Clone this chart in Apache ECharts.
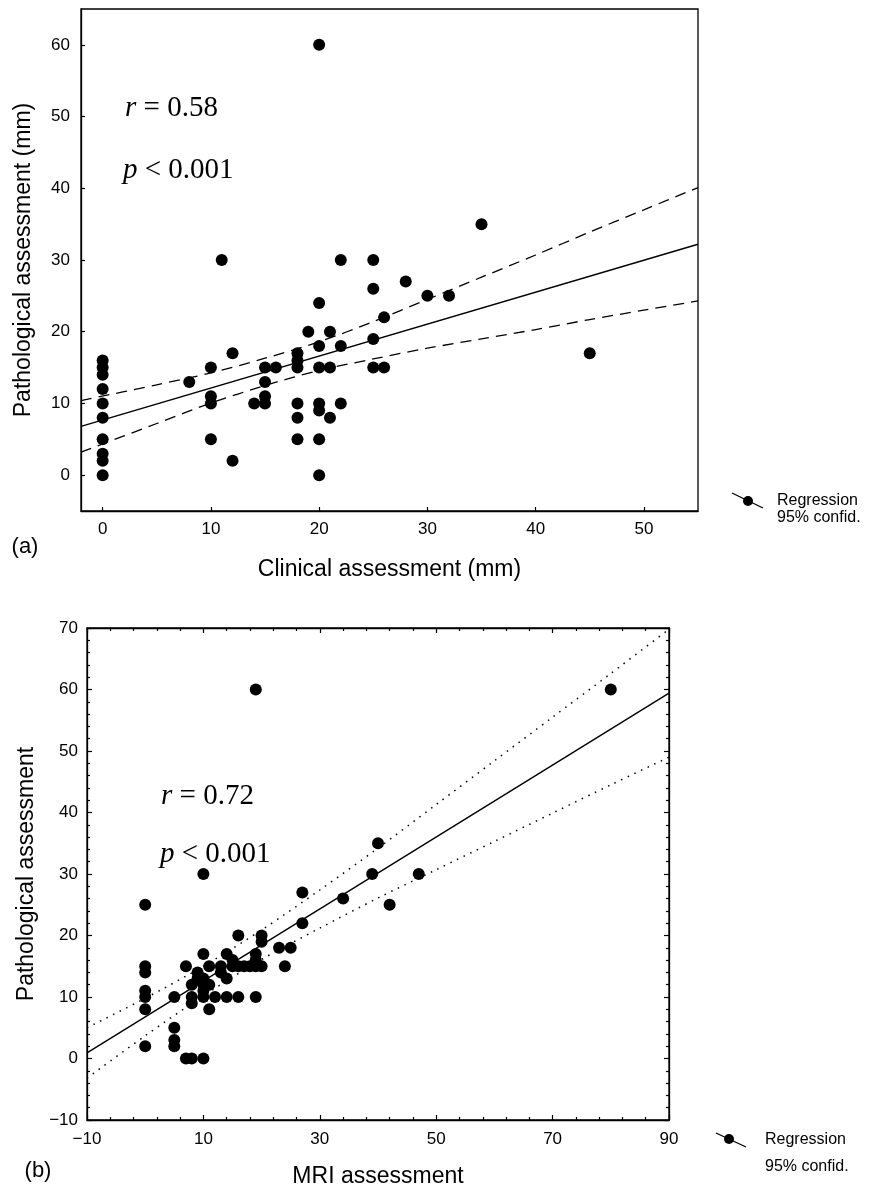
<!DOCTYPE html>
<html><head><meta charset="utf-8">
<script src="https://cdn.jsdelivr.net/npm/echarts@6/dist/echarts.min.js"></script>
<style>html,body{margin:0;padding:0;background:#fff}#c{width:875px;height:1189px}</style>
</head><body><div id="c"></div>
<script>
// ---------- Panel (a): Clinical vs pathological assessment ----------
const clinA = [0,0,0,0,0,0,0,0,0,0, 8,10,10,10,10,11,12,12,14, 15,15,15,15,16, 18,18,18,18,18,18, 19,20,20,20,20,20,20,20,20, 21,21,21,22,22,22, 25,25,25,25,26,26,28,30,32,35,45];
const pathA = [0,2,3,5,8,10,12,14,15,16, 13,15,11,10,5,30,17,2,10, 15,13,11,10,15, 17,16,15,10,8,5, 20,60,24,18,15,10,9,5,0, 20,15,8,30,18,10, 30,26,19,15,22,15,27,25,25,35,17];
const regXA = [-2, 55];
const regYA = [6.8, 32.2];
const bandXA = [-2,5,10,15,20,25,30,35,40,45,50,55];
const bandUpA = [10.4,12.6,14.25,16.3,18.6,21.4,24.5,27.6,30.7,33.9,37.0,40.1];
const bandLoA = [3.2,7.2,10.05,12.5,14.6,16.2,17.7,19.0,20.3,21.7,23.0,24.3];
const xTicksA = [0,10,20,30,40,50];
const yTicksA = [0,10,20,30,40,50,60];

// ---------- Panel (b): MRI vs pathological assessment ----------
const mriB = [0,0,0,0,0,0,0, 5,5,5,5, 7,7,8,8,8,8, 9,9,10,10,10,10,10,10,10, 11,11,11,12,13,13,14,14,14, 15,15,16,16,16,17,18, 19,19,19,19,19,20,20,20, 23,24,25,27,27,34,39,40,42,47,80];
const pathB = [25,15,14,11,10,8,2, 10,5,3,2, 15,0,12,10,9,0, 14,13,30,17,13,12,11,10,0, 15,12,8,10,15,14,17,13,10, 16,15,20,15,10,15,15, 60,17,16,15,10,20,19,15, 18,15,18,27,22,26,30,35,25,30,60];
const regXB = [-10, 90];
const regYB = [0.9, 59.4];
const bandXB = [-10,0,10,20,30,40,50,60,70,80,90];
const bandUpB = [5.0,9.8,15.0,20.9,27.4,34.2,41.3,48.4,55.5,62.6,69.8];
const bandLoB = [-3.2,3.7,10.2,16.1,21.2,26.1,30.7,35.3,39.9,44.5,49.0];

const SANS = '"Liberation Sans", Arial, Helvetica, sans-serif';
const SERIF = '"Liberation Serif", "Times New Roman", serif';
const minus = v => String(v).replace('-', '\u2212');
const pairs = (xs, ys) => xs.map((x, i) => [x, ys[i]]);

const lblStyle = {color:'#000', fontSize:17, fontFamily:SANS};
const nameStyle = {color:'#000', fontSize:23, fontFamily:SANS};
const axLine = {show:true, onZero:false, lineStyle:{color:'#000', width:1.3}};
const dot = {color:'#000', opacity:1};
const statText = (x, y, v, t) => ({type:'text', x:x, y:y, style:{text:'{i|' + v + '} ' + t, font:'29px ' + SERIF, fill:'#000', verticalAlign:'middle',
      rich:{i:{fontStyle:'italic', fontSize:29, fontFamily:SERIF}}}});

const chart = echarts.init(document.getElementById('c'), null, {renderer:'canvas'});
chart.setOption({
  animation:false,
  backgroundColor:'#fff',
  grid:[
    {left:81, top:9, width:617, height:502, show:true, borderColor:'#000', borderWidth:1.3, backgroundColor:'transparent'},
    {left:87, top:628, width:582, height:492, show:true, borderColor:'#000', borderWidth:1.3, backgroundColor:'transparent'}
  ],
  xAxis:[
    {gridIndex:0, type:'value', min:-2, max:55, splitLine:{show:false}, axisLine:axLine,
     axisTick:{show:true, inside:true, length:4, customValues:xTicksA, lineStyle:{color:'#000', width:1.2}},
     axisLabel:Object.assign({customValues:xTicksA, margin:10, formatter:minus}, lblStyle),
     name:'Clinical assessment (mm)', nameLocation:'middle', nameGap:47, nameTextStyle:nameStyle},
    {gridIndex:1, type:'value', min:-10, max:90, interval:20, splitLine:{show:false}, axisLine:axLine,
     axisTick:{show:true, inside:true, length:5, lineStyle:{color:'#000', width:1.2}},
     minorTick:{show:true, splitNumber:5, length:3, lineStyle:{color:'#000', width:1.2}},
     axisLabel:Object.assign({margin:11, formatter:minus}, lblStyle),
     name:'MRI assessment', nameLocation:'middle', nameGap:45, nameTextStyle:nameStyle},
    {gridIndex:1, type:'value', position:'top', min:-10, max:90, interval:20, splitLine:{show:false}, axisLine:axLine,
     axisTick:{show:true, inside:true, length:5, lineStyle:{color:'#000', width:1.2}},
     minorTick:{show:true, splitNumber:5, length:3, lineStyle:{color:'#000', width:1.2}},
     axisLabel:{show:false}}
  ],
  yAxis:[
    {gridIndex:0, type:'value', min:-5, max:65, splitLine:{show:false}, axisLine:axLine,
     axisTick:{show:true, inside:true, length:4, customValues:yTicksA, lineStyle:{color:'#000', width:1.2}},
     axisLabel:Object.assign({customValues:yTicksA, margin:11, formatter:minus}, lblStyle),
     name:'Pathological assessment (mm)', nameLocation:'middle', nameGap:46, nameTextStyle:nameStyle},
    {gridIndex:1, type:'value', min:-10, max:70, interval:10, splitLine:{show:false}, axisLine:axLine,
     axisTick:{show:true, inside:true, length:5, lineStyle:{color:'#000', width:1.2}},
     minorTick:{show:true, splitNumber:5, length:3, lineStyle:{color:'#000', width:1.2}},
     axisLabel:Object.assign({margin:9, formatter:minus}, lblStyle),
     name:'Pathological assessment', nameLocation:'middle', nameGap:41, nameTextStyle:nameStyle},
    {gridIndex:1, type:'value', position:'right', min:-10, max:70, interval:10, splitLine:{show:false}, axisLine:axLine,
     axisTick:{show:true, inside:true, length:5, lineStyle:{color:'#000', width:1.2}},
     minorTick:{show:true, splitNumber:5, length:3, lineStyle:{color:'#000', width:1.2}},
     axisLabel:{show:false}}
  ],
  series:[
    {type:'line', xAxisIndex:0, yAxisIndex:0, data:pairs(regXA, regYA), showSymbol:false, silent:true,
     lineStyle:{color:'#000', width:1.4}},
    {type:'line', xAxisIndex:0, yAxisIndex:0, data:pairs(bandXA, bandUpA), showSymbol:false, silent:true, smooth:0.3,
     lineStyle:{color:'#000', width:1.3, type:[11,7]}},
    {type:'line', xAxisIndex:0, yAxisIndex:0, data:pairs(bandXA, bandLoA), showSymbol:false, silent:true, smooth:0.3,
     lineStyle:{color:'#000', width:1.3, type:[11,7]}},
    {type:'scatter', xAxisIndex:0, yAxisIndex:0, data:pairs(clinA, pathA), symbol:'circle', symbolSize:12,
     itemStyle:dot, silent:true},

    {type:'line', xAxisIndex:1, yAxisIndex:1, data:pairs(regXB, regYB), showSymbol:false, silent:true,
     lineStyle:{color:'#000', width:1.4}},
    {type:'line', xAxisIndex:1, yAxisIndex:1, data:pairs(bandXB, bandUpB), showSymbol:false, silent:true, smooth:0.3,
     lineStyle:{color:'#000', width:1.5, type:[1.5,5.8]}},
    {type:'line', xAxisIndex:1, yAxisIndex:1, data:pairs(bandXB, bandLoB), showSymbol:false, silent:true, smooth:0.3,
     lineStyle:{color:'#000', width:1.5, type:[1.5,5.8]}},
    {type:'scatter', xAxisIndex:1, yAxisIndex:1, data:pairs(mriB, pathB), symbol:'circle', symbolSize:12,
     itemStyle:dot, silent:true}
  ],
  graphic:[
    statText(125, 108, 'r', '= 0.58'),
    statText(123, 170, 'p', '< 0.001'),
    statText(161, 796, 'r', '= 0.72'),
    statText(160, 854, 'p', '< 0.001'),

    {type:'text', x:25, y:547, style:{text:'(a)', font:'22px ' + SANS, fill:'#000', align:'center', verticalAlign:'middle'}},
    {type:'text', x:38, y:1171, style:{text:'(b)', font:'22px ' + SANS, fill:'#000', align:'center', verticalAlign:'middle'}},

    {type:'line', shape:{x1:732, y1:493, x2:763, y2:508}, style:{stroke:'#000', lineWidth:1.3}},
    {type:'circle', shape:{cx:748, cy:501, r:5}, style:{fill:'#000'}},
    {type:'text', x:777, y:501, style:{text:'Regression', font:'16px ' + SANS, fill:'#000', verticalAlign:'middle'}},
    {type:'text', x:777, y:518, style:{text:'95% confid.', font:'16px ' + SANS, fill:'#000', verticalAlign:'middle'}},

    {type:'line', shape:{x1:716, y1:1133, x2:746, y2:1147}, style:{stroke:'#000', lineWidth:1.3}},
    {type:'circle', shape:{cx:729, cy:1139, r:5}, style:{fill:'#000'}},
    {type:'text', x:765, y:1140, style:{text:'Regression', font:'16px ' + SANS, fill:'#000', verticalAlign:'middle'}},
    {type:'text', x:765, y:1167, style:{text:'95% confid.', font:'16px ' + SANS, fill:'#000', verticalAlign:'middle'}}
  ]
});
</script>
</body></html>
